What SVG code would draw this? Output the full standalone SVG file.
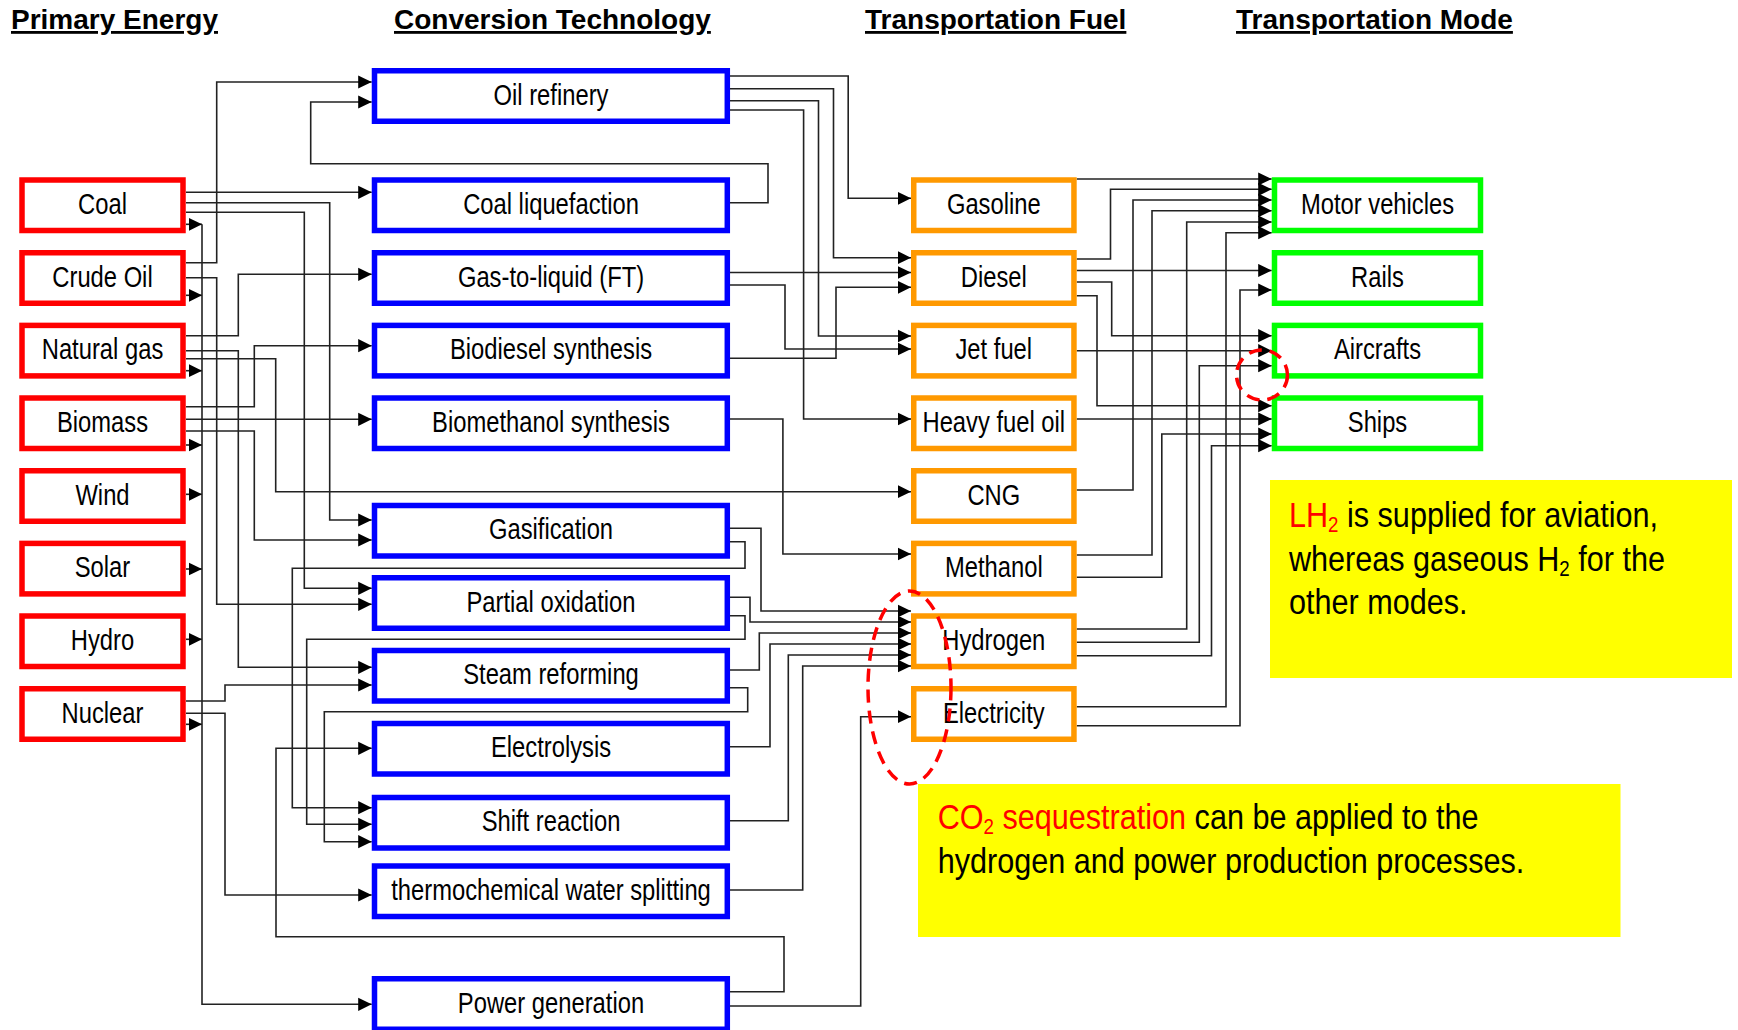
<svg xmlns="http://www.w3.org/2000/svg" width="1738" height="1030" viewBox="0 0 1738 1030">
<defs>
<marker id="ah" markerUnits="userSpaceOnUse" markerWidth="14" markerHeight="14" viewBox="0 0 14 14" refX="13.5" refY="7" orient="auto"><path d="M0,0.4 L13.5,7 L0,13.6 z" fill="#000"/></marker>
<style>
.t{font-family:"Liberation Sans",Arial,sans-serif;font-size:28px;font-weight:bold;fill:#000;text-decoration:underline}
.lbl{font-family:"Liberation Sans",Arial,sans-serif;font-size:29px;fill:#000;text-anchor:middle}
.note{font-family:"Liberation Sans",Arial,sans-serif;font-size:36px;fill:#000}
.red{fill:#ff0000}
.sub{font-size:22px}
.pe rect{fill:#fff;stroke:#ff0000;stroke-width:5.5}
.ct rect{fill:#fff;stroke:#0000ff;stroke-width:5.5}
.tf rect{fill:#fff;stroke:#ff9900;stroke-width:5.5}
.tm rect{fill:#fff;stroke:#00ff00;stroke-width:5.5}
#connectors path{fill:none;stroke:#222;stroke-width:1.6;marker-end:url(#ah)}
.hl{fill:none;stroke:#ff0000;stroke-width:3.5;stroke-dasharray:13 8}
.yb{fill:#ffff00}
</style>
</defs>
<rect width="1738" height="1030" fill="#fff"/>

<g id="titles">
<text class="t" x="11" y="29">Primary Energy</text>
<text class="t" x="394" y="29">Conversion Technology</text>
<text class="t" x="865" y="29">Transportation Fuel</text>
<text class="t" x="1236" y="29">Transportation Mode</text>
</g>

<g id="connectors">
<path d="M186,262.7 H216.7 V82 H371.7"/>
<path d="M730,202.7 H768 V163.7 H310.7 V102 H371.7"/>
<path d="M186,192.3 H371.7"/>
<path d="M186,202.7 H329.7 V520 H371.7"/>
<path d="M186,212.3 H304.3 V588.3 H371.7"/>
<path d="M186,277.7 H216.7 V604.3 H371.7"/>
<path d="M186,335.7 H238.3 V274.3 H371.7"/>
<path d="M186,350.7 H238.3 V667.3 H371.7"/>
<path d="M186,358.7 H275.7 V491.7 H911"/>
<path d="M186,406.7 H254.3 V345.7 H371.7"/>
<path d="M186,419.3 H371.7"/>
<path d="M186,431 H254.3 V540 H371.7"/>
<path d="M186,701 H225 V685 H371.7"/>
<path d="M186,713.3 H225 V895 H371.7"/>
<path d="M186,224.3 H202"/>
<path d="M186,295.3 H202"/>
<path d="M186,370.7 H202"/>
<path d="M186,445 H202"/>
<path d="M186,494.3 H202"/>
<path d="M186,569 H202"/>
<path d="M186,639.3 H202"/>
<path d="M186,724.3 H202"/>
<path d="M202,224.3 V1004.3 H371.7"/>
<path d="M730,541.7 H745 V568.3 H292.3 V807.7 H371.7"/>
<path d="M730,615.7 H745 V639.3 H306.7 V824.3 H371.7"/>
<path d="M730,687.7 H747.7 V711.7 H324.3 V841.7 H371.7"/>
<path d="M730,991.7 H784 V936.7 H276 V748.3 H371.7"/>
<path d="M730,1006 H860.7 V716.7 H911"/>
<path d="M730,76 H848.2 V198.3 H911"/>
<path d="M730,88.7 H833.5 V257.7 H911"/>
<path d="M730,100.7 H818.5 V336 H911"/>
<path d="M730,110 H803.6 V419 H911"/>
<path d="M730,272.5 H911"/>
<path d="M730,285 H785 V349 H911"/>
<path d="M730,358.3 H836 V287.3 H911"/>
<path d="M730,419 H782.9 V554 H911"/>
<path d="M730,528.3 H761 V611 H911"/>
<path d="M730,597.3 H750 V622 H911"/>
<path d="M730,670 H759.3 V633 H911"/>
<path d="M730,746.7 H770 V644 H911"/>
<path d="M730,820.7 H788.3 V655 H911"/>
<path d="M730,890 H802.7 V666 H911"/>
<path d="M1076.7,179 H1271.7"/>
<path d="M1076.7,259 H1110.5 V189.3 H1271.7"/>
<path d="M1076.7,270.5 H1271.7"/>
<path d="M1076.7,282 H1111.7 V335.7 H1271.7"/>
<path d="M1076.7,295.7 H1097 V405.7 H1271.7"/>
<path d="M1076.7,350.7 H1271.7"/>
<path d="M1076.7,419 H1271.7"/>
<path d="M1076.7,490 H1133 V200 H1271.7"/>
<path d="M1076.7,555 H1152 V210.7 H1271.7"/>
<path d="M1076.7,577.3 H1161.8 V434 H1271.7"/>
<path d="M1076.7,629 H1186.7 V222 H1271.7"/>
<path d="M1076.7,642.3 H1199.3 V365.7 H1271.7"/>
<path d="M1076.7,655.7 H1211.5 V445.7 H1271.7"/>
<path d="M1076.7,706.7 H1226 V232.7 H1271.7"/>
<path d="M1076.7,725.7 H1240 V290 H1271.7"/>
</g>

<g id="primary" class="pe">
<g id="n-coal"><rect x="22" y="180" width="161" height="50.5"/><text class="lbl" transform="translate(102.5,214) scale(.82,1)">Coal</text></g>
<g id="n-crude"><rect x="22" y="252.75" width="161" height="50.5"/><text class="lbl" transform="translate(102.5,286.7) scale(.82,1)">Crude Oil</text></g>
<g id="n-ng"><rect x="22" y="325.4" width="161" height="50.5"/><text class="lbl" transform="translate(102.5,359.4) scale(.82,1)">Natural gas</text></g>
<g id="n-biomass"><rect x="22" y="398" width="161" height="50.5"/><text class="lbl" transform="translate(102.5,432) scale(.82,1)">Biomass</text></g>
<g id="n-wind"><rect x="22" y="470.75" width="161" height="50.5"/><text class="lbl" transform="translate(102.5,504.7) scale(.82,1)">Wind</text></g>
<g id="n-solar"><rect x="22" y="543.4" width="161" height="50.5"/><text class="lbl" transform="translate(102.5,577.4) scale(.82,1)">Solar</text></g>
<g id="n-hydro"><rect x="22" y="616" width="161" height="50.5"/><text class="lbl" transform="translate(102.5,650) scale(.82,1)">Hydro</text></g>
<g id="n-nuclear"><rect x="22" y="688.75" width="161" height="50.5"/><text class="lbl" transform="translate(102.5,722.7) scale(.82,1)">Nuclear</text></g>
</g>

<g id="conversion" class="ct">
<g id="n-oil"><rect x="374.5" y="70.75" width="352.8" height="50.5"/><text class="lbl" transform="translate(551,104.7) scale(.82,1)">Oil refinery</text></g>
<g id="n-cl"><rect x="374.5" y="180" width="352.8" height="50.5"/><text class="lbl" transform="translate(551,214) scale(.82,1)">Coal liquefaction</text></g>
<g id="n-gtl"><rect x="374.5" y="252.75" width="352.8" height="50.5"/><text class="lbl" transform="translate(551,286.7) scale(.82,1)">Gas-to-liquid (FT)</text></g>
<g id="n-biod"><rect x="374.5" y="325.4" width="352.8" height="50.5"/><text class="lbl" transform="translate(551,359.4) scale(.82,1)">Biodiesel synthesis</text></g>
<g id="n-biom"><rect x="374.5" y="398" width="352.8" height="50.5"/><text class="lbl" transform="translate(551,432) scale(.82,1)">Biomethanol synthesis</text></g>
<g id="n-gasif"><rect x="374.5" y="505.5" width="352.8" height="50.5"/><text class="lbl" transform="translate(551,539.2) scale(.82,1)">Gasification</text></g>
<g id="n-po"><rect x="374.5" y="577.75" width="352.8" height="50.5"/><text class="lbl" transform="translate(551,611.5) scale(.82,1)">Partial oxidation</text></g>
<g id="n-sr"><rect x="374.5" y="650.5" width="352.8" height="50.5"/><text class="lbl" transform="translate(551,684.2) scale(.82,1)">Steam reforming</text></g>
<g id="n-el"><rect x="374.5" y="723.5" width="352.8" height="50.5"/><text class="lbl" transform="translate(551,757.2) scale(.82,1)">Electrolysis</text></g>
<g id="n-shift"><rect x="374.5" y="797.5" width="352.8" height="50.5"/><text class="lbl" transform="translate(551,831.2) scale(.82,1)">Shift reaction</text></g>
<g id="n-thermo"><rect x="374.5" y="866" width="352.8" height="50.5"/><text class="lbl" transform="translate(551,899.7) scale(.82,1)">thermochemical water splitting</text></g>
<g id="n-pg"><rect x="374.5" y="978.75" width="352.8" height="50.5"/><text class="lbl" transform="translate(551,1012.7) scale(.82,1)">Power generation</text></g>
</g>

<g id="fuel" class="tf">
<g id="n-gasoline"><rect x="913.75" y="180" width="160.2" height="50.5"/><text class="lbl" transform="translate(993.8,214) scale(.82,1)">Gasoline</text></g>
<g id="n-diesel"><rect x="913.75" y="252.75" width="160.2" height="50.5"/><text class="lbl" transform="translate(993.8,286.7) scale(.82,1)">Diesel</text></g>
<g id="n-jet"><rect x="913.75" y="325.4" width="160.2" height="50.5"/><text class="lbl" transform="translate(993.8,359.4) scale(.82,1)">Jet fuel</text></g>
<g id="n-hfo"><rect x="913.75" y="398" width="160.2" height="50.5"/><text class="lbl" transform="translate(993.8,432) scale(.82,1)">Heavy fuel oil</text></g>
<g id="n-cng"><rect x="913.75" y="470.75" width="160.2" height="50.5"/><text class="lbl" transform="translate(993.8,504.7) scale(.82,1)">CNG</text></g>
<g id="n-methanol"><rect x="913.75" y="543.4" width="160.2" height="50.5"/><text class="lbl" transform="translate(993.8,577.4) scale(.82,1)">Methanol</text></g>
<g id="n-h2"><rect x="913.75" y="616" width="160.2" height="50.5"/><text class="lbl" transform="translate(993.8,650) scale(.82,1)">Hydrogen</text></g>
<g id="n-elec"><rect x="913.75" y="688.75" width="160.2" height="50.5"/><text class="lbl" transform="translate(993.8,722.7) scale(.82,1)">Electricity</text></g>
</g>

<g id="mode" class="tm">
<g id="n-mv"><rect x="1274.5" y="180" width="206" height="50.5"/><text class="lbl" transform="translate(1377.5,214) scale(.82,1)">Motor vehicles</text></g>
<g id="n-rails"><rect x="1274.5" y="252.75" width="206" height="50.5"/><text class="lbl" transform="translate(1377.5,286.7) scale(.82,1)">Rails</text></g>
<g id="n-air"><rect x="1274.5" y="325.4" width="206" height="50.5"/><text class="lbl" transform="translate(1377.5,359.4) scale(.82,1)">Aircrafts</text></g>
<g id="n-ships"><rect x="1274.5" y="398" width="206" height="50.5"/><text class="lbl" transform="translate(1377.5,432) scale(.82,1)">Ships</text></g>
</g>

<g id="highlights">
<ellipse class="hl" cx="909.5" cy="687.5" rx="41.5" ry="96.5"/>
<ellipse class="hl" cx="1262" cy="375" rx="25.5" ry="25"/>
</g>

<g id="note-lh2">
<rect class="yb" x="1270" y="480" width="462" height="198"/>
<text class="note" transform="translate(1289,526.5) scale(.85,1)"><tspan class="red">LH</tspan><tspan class="red sub" dy="5">2</tspan><tspan dy="-5"> is supplied for aviation,</tspan></text>
<text class="note" transform="translate(1289,571) scale(.85,1)">whereas gaseous H<tspan class="sub" dy="5">2</tspan><tspan dy="-5"> for the</tspan></text>
<text class="note" transform="translate(1289,614) scale(.85,1)">other modes.</text>
</g>

<g id="note-co2">
<rect class="yb" x="918" y="784" width="702.5" height="153"/>
<text class="note" transform="translate(937.7,829) scale(.85,1)"><tspan class="red">CO</tspan><tspan class="red sub" dy="5">2</tspan><tspan class="red" dy="-5"> sequestration</tspan><tspan> can be applied to the</tspan></text>
<text class="note" transform="translate(937.7,873) scale(.85,1)">hydrogen and power production processes.</text>
</g>
</svg>
